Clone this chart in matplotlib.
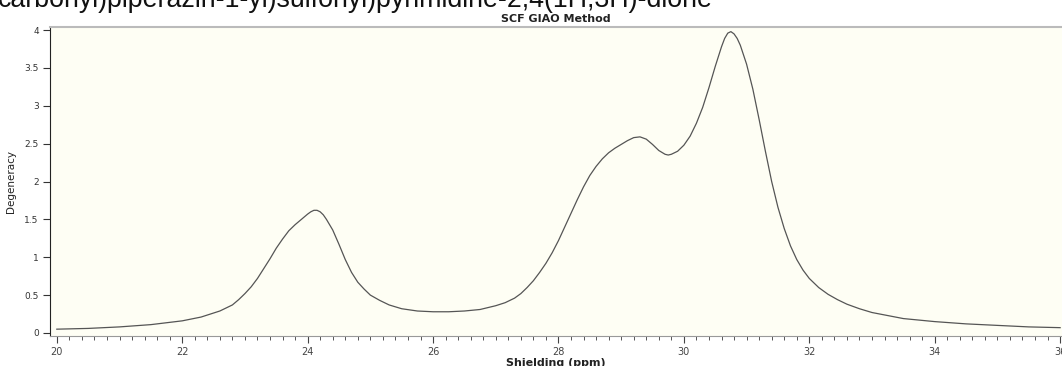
import matplotlib
matplotlib.use("Agg")

import matplotlib.pyplot as plt
from matplotlib.ticker import MultipleLocator

# 曲线数据
shielding = [20.0, 20.5, 21.0, 21.5, 22.0, 22.3, 22.6, 22.8, 22.9,
             23.0, 23.1, 23.2, 23.3, 23.4, 23.5, 23.6, 23.7, 23.8, 23.9,
             24.0, 24.05, 24.1, 24.15, 24.2, 24.25, 24.3, 24.4, 24.5, 24.6, 24.7, 24.8, 24.9,
             25.0, 25.15, 25.3, 25.5, 25.75, 26.0, 26.25, 26.5, 26.75, 27.0, 27.15, 27.3, 27.4,
             27.5, 27.6, 27.7, 27.8, 27.9, 28.0, 28.1, 28.2, 28.3, 28.4, 28.5, 28.6, 28.7,
             28.8, 28.9, 29.0, 29.1, 29.2, 29.3, 29.4, 29.5, 29.6, 29.7, 29.75, 29.8, 29.9,
             30.0, 30.1, 30.2, 30.3, 30.4, 30.5, 30.6, 30.65, 30.7, 30.75, 30.8, 30.85, 30.9,
             31.0, 31.1, 31.2, 31.3, 31.4, 31.5, 31.6, 31.7, 31.8, 31.9, 32.0, 32.15, 32.3,
             32.45, 32.6, 32.8, 33.0, 33.5, 34.0, 34.5, 35.0, 35.5, 36.0]
degeneracy = [0.05, 0.06, 0.08, 0.11, 0.16, 0.21, 0.29, 0.37, 0.44,
              0.52, 0.61, 0.72, 0.85, 0.98, 1.12, 1.24, 1.35, 1.43, 1.50,
              1.57, 1.60, 1.62, 1.62, 1.60, 1.56, 1.50, 1.36, 1.17, 0.97, 0.80, 0.67, 0.58,
              0.50, 0.43, 0.37, 0.32, 0.29, 0.28, 0.28, 0.29, 0.31, 0.36, 0.40, 0.46, 0.52,
              0.60, 0.69, 0.80, 0.92, 1.06, 1.22, 1.40, 1.58, 1.76, 1.93, 2.08, 2.20, 2.30,
              2.38, 2.44, 2.49, 2.54, 2.58, 2.59, 2.56, 2.49, 2.41, 2.36, 2.35, 2.36, 2.40,
              2.48, 2.60, 2.77, 2.98, 3.24, 3.52, 3.78, 3.89, 3.96, 3.98, 3.95, 3.89, 3.80,
              3.55, 3.22, 2.82, 2.40, 2.00, 1.66, 1.38, 1.15, 0.97, 0.83, 0.72, 0.60, 0.51,
              0.44, 0.38, 0.32, 0.27, 0.19, 0.15, 0.12, 0.10, 0.08, 0.07]

x_ticks = [20, 22, 24, 26, 28, 30, 32, 34, 36]
y_ticks = [0, 0.5, 1, 1.5, 2, 2.5, 3, 3.5, 4]

fig = plt.figure(figsize=(10.62, 3.66), dpi=100)
ax = fig.add_axes([0.047, 0.082, 0.953, 0.844])
ax.set_facecolor("#fefef4")

ax.plot(shielding, degeneracy, color="#555555", linewidth=0.9)

ax.set_xlim(19.89, 36.03)
ax.set_ylim(-0.04, 4.04)
ax.set_xticks(x_ticks)
ax.set_yticks(y_ticks)
ax.set_yticklabels(["0", "0.5", "1", "1.5", "2", "2.5", "3", "3.5", "4"])
ax.xaxis.set_minor_locator(MultipleLocator(0.2))

# 边框
ax.spines["right"].set_visible(False)
ax.spines["top"].set_color("#bbbbbb")
ax.spines["top"].set_linewidth(1.5)
ax.spines["left"].set_color("#222222")
ax.spines["bottom"].set_color("#999999")

ax.tick_params(axis="y", direction="out", length=5, width=0.8, labelsize=6.5,
               colors="#333333", pad=3)
ax.tick_params(axis="x", which="major", direction="out", length=5, width=0.8,
               labelsize=7, colors="#444444", pad=3)
ax.tick_params(axis="x", which="minor", direction="out", length=3, width=0.7,
               colors="#555555")

ax.set_xlabel("Shielding (ppm)", fontsize=8, fontweight="bold", color="#222222", labelpad=1)
ax.set_ylabel("Degeneracy", fontsize=7.5, color="#222222", labelpad=6)
ax.set_title("SCF GIAO Method", fontsize=8, fontweight="bold", color="#222222", pad=4)

# 顶部被截断的分子名
fig.text(-0.002, 0.982, "carbonyl)piperazin-1-yl)sulfonyl)pyrimidine-2,4(1H,3H)-dione",
         fontsize=19.3, family="Liberation Sans", color="#111111", va="baseline", ha="left")

fig.savefig("out.png", dpi=100, facecolor="white")
